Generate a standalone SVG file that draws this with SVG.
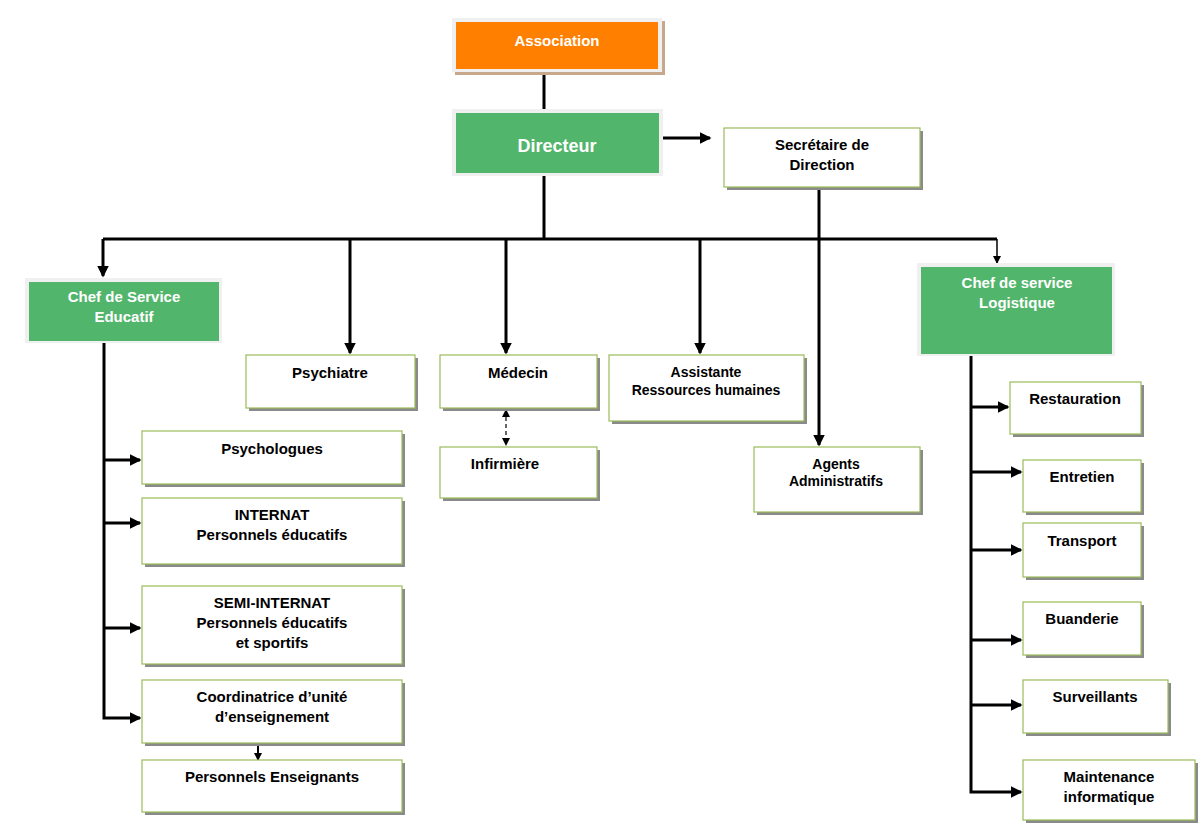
<svg xmlns="http://www.w3.org/2000/svg" width="1200" height="825" viewBox="0 0 1200 825">
<style>
.w{fill:#fff;stroke:#9bbb59;stroke-width:1.2}
.sh{fill:#8a8a8a}
.fr{fill:#f0f0f0}
.g{fill:#52b56c}
.o{fill:#ff8000}
text{font-family:"Liberation Sans",Arial,sans-serif;font-weight:bold;text-anchor:middle}
.t{font-size:15px;fill:#000}
.tw{font-size:15px;fill:#fff}
.c{stroke:#000;stroke-width:3;fill:none}
</style>
<defs>
<marker id="a" markerWidth="4" markerHeight="4" refX="3.5" refY="2" orient="auto" markerUnits="strokeWidth"><path d="M0,0L4,2L0,4z" fill="#000"/></marker>
<marker id="s" markerWidth="8" markerHeight="8" refX="7" refY="4" orient="auto-start-reverse" markerUnits="userSpaceOnUse"><path d="M0,0L8,4L0,8z" fill="#000"/></marker>
</defs>
<g id="connectors">
<path class="c" d="M544,72V109M544,176V239M103,239H997"/>
<path class="c" d="M103,239V276" marker-end="url(#a)"/>
<path class="c" d="M350,239V353" marker-end="url(#a)"/>
<path class="c" d="M506,239V353" marker-end="url(#a)"/>
<path class="c" d="M700,239V353" marker-end="url(#a)"/>
<path d="M997,239V263" stroke="#000" stroke-width="1.5" marker-end="url(#s)"/>
<path class="c" d="M663,138H710" marker-end="url(#a)"/>
<path class="c" d="M819,187V445" marker-end="url(#a)"/>
<path d="M506,410V445" stroke="#000" stroke-width="1.2" stroke-dasharray="4,3" marker-start="url(#s)" marker-end="url(#s)"/>
<path class="c" d="M104,343V718H140" marker-end="url(#a)"/>
<path class="c" d="M104,460H140" marker-end="url(#a)"/>
<path class="c" d="M104,523H140" marker-end="url(#a)"/>
<path class="c" d="M104,628H140" marker-end="url(#a)"/>
<path d="M258,743V760" stroke="#000" stroke-width="2" marker-end="url(#s)"/>
<path class="c" d="M971,356V792H1021" marker-end="url(#a)"/>
<path class="c" d="M971,407H1008" marker-end="url(#a)"/>
<path class="c" d="M971,472H1021" marker-end="url(#a)"/>
<path class="c" d="M971,550H1021" marker-end="url(#a)"/>
<path class="c" d="M971,640H1021" marker-end="url(#a)"/>
<path class="c" d="M971,705H1021" marker-end="url(#a)"/>
</g>
<g id="association"><rect x="455" y="21" width="210" height="54" fill="#c8a88a"/><rect class="fr" x="452" y="18" width="210" height="54"/><rect class="o" x="456" y="22" width="202" height="47"/><text class="tw" x="557" y="46" font-size="17">Association</text></g>
<g id="directeur"><rect class="fr" x="452" y="109" width="211" height="67"/><rect class="g" x="456" y="113" width="203" height="60"/><text class="tw" x="557" y="152" style="font-size:18px">Directeur</text></g>
<g id="secretaire"><rect class="sh" x="727" y="131" width="196" height="59"/><rect class="w" x="724" y="128" width="196" height="59"/><text class="t" x="822" y="150">Secrétaire de</text><text class="t" x="822" y="170">Direction</text></g>
<g id="chef-educatif"><rect class="fr" x="25" y="278" width="197" height="65"/><rect class="g" x="29" y="282" width="190" height="59"/><text class="tw" x="124" y="302">Chef de Service</text><text class="tw" x="124" y="322">Educatif</text></g>
<g id="chef-logistique"><rect class="fr" x="917" y="263" width="198" height="93"/><rect class="g" x="921" y="267" width="191" height="87"/><text class="tw" x="1017" y="288">Chef de service</text><text class="tw" x="1017" y="308">Logistique</text></g>
<g id="psychiatre"><rect class="sh" x="249" y="358" width="169" height="53"/><rect class="w" x="246" y="355" width="169" height="53"/><text class="t" x="330" y="378">Psychiatre</text></g>
<g id="medecin"><rect class="sh" x="443" y="358" width="157" height="53"/><rect class="w" x="440" y="355" width="157" height="53"/><text class="t" x="518" y="378">Médecin</text></g>
<g id="infirmiere"><rect class="sh" x="443" y="450" width="157" height="51"/><rect class="w" x="440" y="447" width="157" height="51"/><text class="t" x="505" y="469">Infirmière</text></g>
<g id="assistante"><rect class="sh" x="612" y="358" width="195" height="66"/><rect class="w" x="609" y="355" width="195" height="66"/><text class="t" x="706" y="377" style="font-size:14px">Assistante</text><text class="t" x="706" y="395" style="font-size:14px">Ressources humaines</text></g>
<g id="agents"><rect class="sh" x="757" y="450" width="166" height="65"/><rect class="w" x="754" y="447" width="166" height="65"/><text class="t" x="836" y="469" style="font-size:14px">Agents</text><text class="t" x="836" y="486" style="font-size:14px">Administratifs</text></g>
<g id="psychologues"><rect class="sh" x="145" y="434" width="260" height="53"/><rect class="w" x="142" y="431" width="260" height="53"/><text class="t" x="272" y="454">Psychologues</text></g>
<g id="internat"><rect class="sh" x="145" y="501" width="260" height="66"/><rect class="w" x="142" y="498" width="260" height="66"/><text class="t" x="272" y="520">INTERNAT</text><text class="t" x="272" y="540">Personnels éducatifs</text></g>
<g id="semi-internat"><rect class="sh" x="145" y="589" width="260" height="78"/><rect class="w" x="142" y="586" width="260" height="78"/><text class="t" x="272" y="608">SEMI-INTERNAT</text><text class="t" x="272" y="628">Personnels éducatifs</text><text class="t" x="272" y="648">et sportifs</text></g>
<g id="coordinatrice"><rect class="sh" x="145" y="683" width="260" height="63"/><rect class="w" x="142" y="680" width="260" height="63"/><text class="t" x="272" y="702">Coordinatrice d’unité</text><text class="t" x="272" y="722">d’enseignement</text></g>
<g id="enseignants"><rect class="sh" x="145" y="763" width="260" height="52"/><rect class="w" x="142" y="760" width="260" height="52"/><text class="t" x="272" y="782">Personnels Enseignants</text></g>
<g id="restauration"><rect class="sh" x="1013" y="385" width="131" height="52"/><rect class="w" x="1010" y="382" width="131" height="52"/><text class="t" x="1075" y="404">Restauration</text></g>
<g id="entretien"><rect class="sh" x="1026" y="463" width="118" height="52"/><rect class="w" x="1023" y="460" width="118" height="52"/><text class="t" x="1082" y="482">Entretien</text></g>
<g id="transport"><rect class="sh" x="1026" y="526" width="118" height="54"/><rect class="w" x="1023" y="523" width="118" height="54"/><text class="t" x="1082" y="546">Transport</text></g>
<g id="buanderie"><rect class="sh" x="1026" y="605" width="118" height="53"/><rect class="w" x="1023" y="602" width="118" height="53"/><text class="t" x="1082" y="624">Buanderie</text></g>
<g id="surveillants"><rect class="sh" x="1026" y="683" width="145" height="53"/><rect class="w" x="1023" y="680" width="145" height="53"/><text class="t" x="1095" y="702">Surveillants</text></g>
<g id="maintenance"><rect class="sh" x="1026" y="763" width="172" height="60"/><rect class="w" x="1023" y="760" width="172" height="60"/><text class="t" x="1109" y="782">Maintenance</text><text class="t" x="1109" y="802">informatique</text></g>
</svg>
